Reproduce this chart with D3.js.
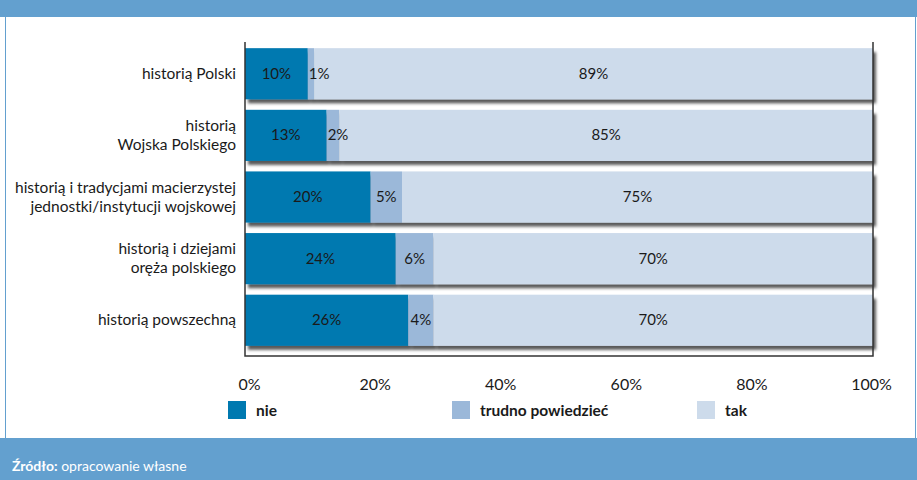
<!DOCTYPE html>
<html><head><meta charset="utf-8">
<script src="https://cdn.jsdelivr.net/npm/d3@7"></script>
<style>
body{margin:0;padding:0;background:#fff;}
svg{display:block;}
text{font-family:Lato,"Open Sans","Noto Sans",sans-serif;}
</style></head>
<body>
<script>
const categories = [
  ["historią Polski"],
  ["historią", "Wojska Polskiego"],
  ["historią i tradycjami macierzystej", "jednostki/instytucji wojskowej"],
  ["historią i dziejami", "oręża polskiego"],
  ["historią powszechną"]
];
const seriesNames = ["nie", "trudno powiedzieć", "tak"];
const nie = [10, 13, 20, 24, 26];
const trudno = [1, 2, 5, 6, 4];
const tak = [89, 85, 75, 70, 70];
const tickValues = [0, 20, 40, 60, 80, 100];
const colors = ["#0079b0", "#9bb8d9", "#cddbeb"];

const W = 917, H = 480;
const FONT = 'Lato,"Open Sans","Noto Sans",sans-serif';
const svg = d3.select("body").append("svg").attr("width", W).attr("height", H);

const defs = svg.append("defs");
const f = defs.append("filter").attr("id", "sh").attr("x", "-5%").attr("y", "-20%").attr("width", "115%").attr("height", "150%");
f.append("feDropShadow").attr("dx", 3).attr("dy", 4).attr("stdDeviation", 1.6).attr("flood-color", "#000").attr("flood-opacity", 0.65);

// header & footer
svg.append("rect").attr("x", 0).attr("y", 0).attr("width", W).attr("height", 17).attr("fill", "#63a0cf");
svg.append("rect").attr("x", 0).attr("y", 438).attr("width", W).attr("height", 42).attr("fill", "#63a0cf");
svg.append("line").attr("x1", 5.5).attr("x2", 5.5).attr("y1", 17).attr("y2", 438).attr("stroke", "#63a0cf");
svg.append("line").attr("x1", 915.5).attr("x2", 915.5).attr("y1", 17).attr("y2", 438).attr("stroke", "#63a0cf");
const ft = svg.append("text").attr("x", 12).attr("y", 471).attr("fill", "#fff").attr("font-size", 14);
ft.append("tspan").attr("font-weight", "bold").text("Źródło:");
ft.append("tspan").text(" opracowanie własne");

const x = d3.scaleLinear().domain([0, 100]).range([245, 873]);
const y = d3.scaleBand().domain(d3.range(categories.length)).range([42, 352]).paddingInner(0.17).paddingOuter(0.1);

const rows = categories.map((c, i) => {
  const vals = [nie[i], trudno[i], tak[i]];
  let acc = 0;
  return vals.map((v, k) => { const s = acc; acc += v; return {i, k, v, s, e: acc}; });
});

const g = svg.append("g");
rows.forEach(r => {
  const rg = g.append("g").attr("filter", "url(#sh)");
  rg.selectAll("rect").data(r).join("rect")
    .attr("x", d => x(d.s)).attr("width", d => x(d.e) - x(d.s))
    .attr("y", d => y(d.i)).attr("height", y.bandwidth())
    .attr("fill", d => colors[d.k]);
});
rows.forEach(r => {
  r.forEach(d => {
    const t = g.append("text").attr("font-size", 15).attr("fill", "#1a1a1a")
      .attr("y", y(d.i) + y.bandwidth() / 2 + 5).attr("text-anchor", "middle").text(d.v + "%");
    const tw = t.node().getComputedTextLength();
    const cx = Math.max((x(d.s) + x(d.e)) / 2, x(d.s) + tw / 2 + 1);
    t.attr("x", cx);
  });
});

const fr = svg.append("g").attr("stroke", "#333").attr("stroke-width", 1.5).attr("fill", "none");
fr.append("path").attr("d", `M${x(0)},42V356H${x(100)}V42`);

categories.forEach((lines, i) => {
  const cy = y(i) + y.bandwidth() / 2;
  const lh = 19;
  const t = svg.append("text").attr("text-anchor", "end").attr("font-size", 15.5).attr("fill", "#1a1a1a");
  lines.forEach((l, j) => {
    t.append("tspan").attr("x", 236).attr("y", cy + 5 + (j - (lines.length - 1) / 2) * lh).text(l);
  });
});

const ax = svg.append("g").attr("transform", "translate(0,387)")
  .call(d3.axisBottom(x).tickValues(tickValues).tickSize(0).tickFormat(d => d + "%"));
ax.select(".domain").remove();
ax.selectAll("text").attr("font-size", 16).attr("fill", "#1a1a1a").attr("dy", 0).attr("dx", d => d === 100 ? -2 : 4)
  .attr("font-family", FONT);

const legX = [228, 452, 697];
const lg = svg.append("g");
seriesNames.forEach((n, k) => {
  lg.append("rect").attr("x", legX[k]).attr("y", 401).attr("width", 18).attr("height", 18).attr("fill", colors[k]);
  lg.append("text").attr("x", legX[k] + 28).attr("y", 416).attr("font-size", 15.5).attr("font-weight", "bold").attr("fill", "#1a1a1a").text(n);
});
</script>
</body></html>
